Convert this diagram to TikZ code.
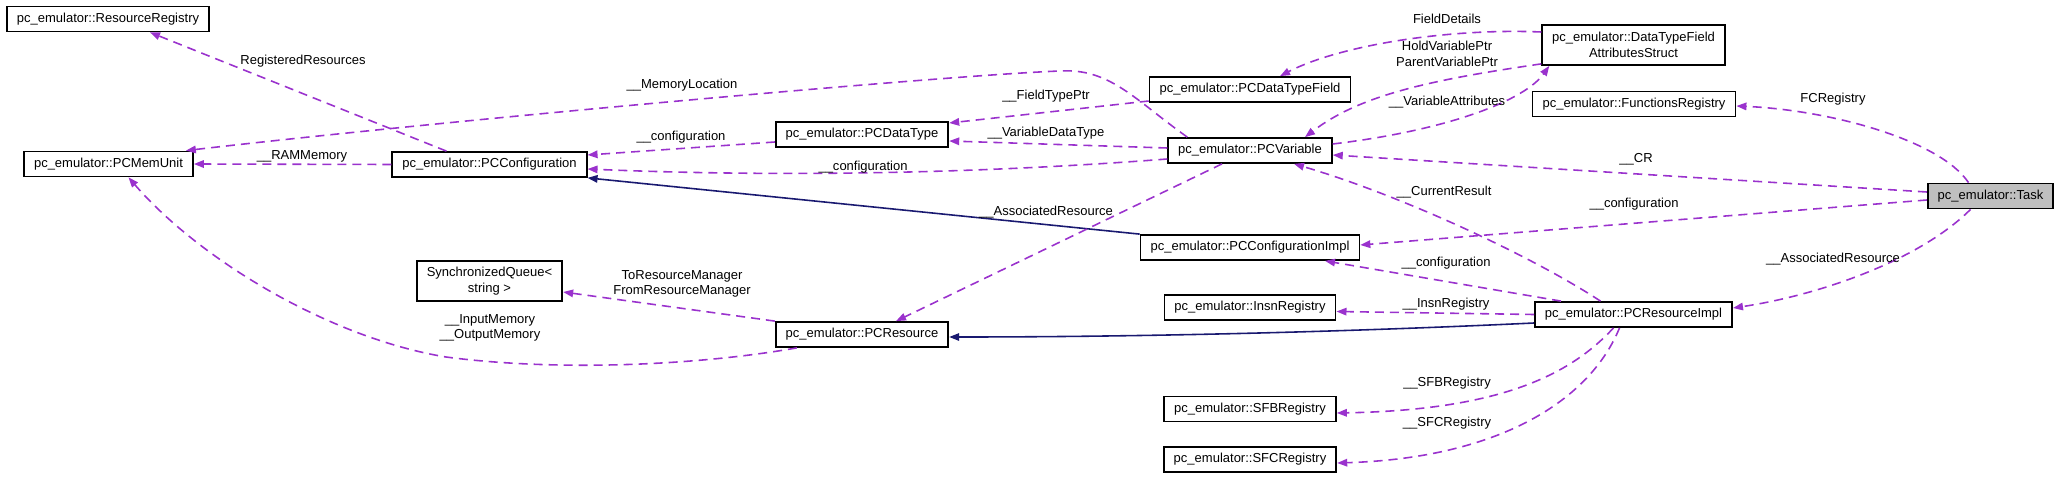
\documentclass[tikz,border=0pt]{standalone}
\usepackage{fontspec}
\setmainfont{Liberation Sans}
\usepackage{tikz}
\usetikzlibrary{arrows.meta, calc}
\definecolor{usecol}{HTML}{9A32CD}
\definecolor{inhcol}{HTML}{191970}
\definecolor{taskgray}{HTML}{BFBFBF}
\tikzset{
  classbox/.style={rectangle, draw=black, line width=0.5pt, fill=white, minimum height=0.25cm, inner xsep=0.1cm, inner ysep=0.02cm, align=center, font=\fontsize{3.7}{4.4}\selectfont},
  twoline/.style={classbox, minimum height=0.4cm},
  edgelabel/.style={inner sep=0pt, align=center, font=\fontsize{3.7}{4.4}\selectfont},
  uses/.style={usecol, line width=0.45pt, dash pattern=on 0.09cm off 0.06cm, -{Triangle[length=0.1cm, width=0.075cm]}},
  inherits/.style={inhcol, line width=0.45pt, -{Triangle[length=0.1cm, width=0.075cm]}}
}

\begin{document}
\begin{tikzpicture}[x=0.01cm, y=-0.01cm]
        \useasboundingbox (0,0) rectangle (2061,479);

        % Columna izquierda
        \node (resreg) [classbox] at (108,19) {pc\_emulator::ResourceRegistry};
        \node (memunit) [classbox] at (108.5,164) {pc\_emulator::PCMemUnit};
        \node (pcconf) [classbox] at (489.5,164.5) {pc\_emulator::PCConfiguration};
        \node (syncq) [twoline] at (489.5,281) {SynchronizedQueue<\\string >};
        \node (datatype) [classbox] at (862,134.5) {pc\_emulator::PCDataType};
        \node (pcres) [classbox] at (862,334.5) {pc\_emulator::PCResource};

        % Columna central
        \node (dtfield) [classbox] at (1250,89.5) {pc\_emulator::PCDataTypeField};
        \node (pcvar) [classbox] at (1250,150.5) {pc\_emulator::PCVariable};
        \node (confimpl) [classbox] at (1250,247.5) {pc\_emulator::PCConfigurationImpl};
        \node (insnreg) [classbox] at (1250,307.5) {pc\_emulator::InsnRegistry};
        \node (sfbreg) [classbox] at (1250,409) {pc\_emulator::SFBRegistry};
        \node (sfcreg) [classbox] at (1250,459.5) {pc\_emulator::SFCRegistry};

        % Columna derecha
        \node (dtattr) [twoline] at (1633.5,45) {pc\_emulator::DataTypeField\\AttributesStruct};
        \node (funcreg) [classbox] at (1634,104) {pc\_emulator::FunctionsRegistry};
        \node (resimpl) [classbox] at (1633.5,314.5) {pc\_emulator::PCResourceImpl};
        \node (task) [classbox, fill=taskgray] at (1990.5,196) {pc\_emulator::Task};

        % Herencia
        \draw [inherits] (confimpl.north west) -- (pcconf.south east);
        \draw [inherits] ($(resimpl.west)+(0,8.5)$) .. controls (1300,334) and (1100,337) .. ($(pcres.east)+(0,2.5)$);

        % Relaciones de uso
        \draw [uses] ($(pcconf.north west)+(55,0)$) -- ($(resreg.south east)+(-60,0)$);
        \draw [uses] (pcconf.west) -- (memunit.east);
        \draw [uses] ($(pcvar.north west)+(20,0)$) .. controls (1135,100) and (1110,68) .. (1060,71) .. controls (950,75) and (450,120) .. ($(memunit.north east)+(-8,0)$);
        \draw [uses] ($(datatype.west)+(0,7.5)$) -- ($(pcconf.east)+(0,-9.5)$);
        \draw [uses] ($(pcvar.west)+(0,8.5)$) .. controls (1000,172) and (800,178) .. ($(pcconf.east)+(0,4.5)$);
        \draw [uses] ($(dtfield.west)+(0,11.5)$) -- ($(datatype.east)+(0,-11.5)$);
        \draw [uses] ($(pcvar.west)+(0,-2.5)$) -- ($(datatype.east)+(0,6.5)$);
        \draw [uses] ($(pcvar.south)+(-28,0)$) -- ($(pcres.north)+(34,0)$);
        \draw [uses] ($(pcres.south west)+(22,0)$) .. controls (700,365) and (560,372) .. (446,357) .. controls (330,338) and (200,260) .. ($(memunit.south)+(20,0)$);
        \draw [uses] (pcres.north west) -- ($(syncq.east)+(0,11)$);
        \draw [uses] ($(dtattr.west)+(0,-13)$) .. controls (1450,28) and (1340,45) .. ($(dtfield.north)+(30,0)$);
        \draw [uses] ($(dtattr.south west)+(0,-2)$) .. controls (1430,80) and (1360,95) .. ($(pcvar.north)+(55,0)$);
        \draw [uses] ($(pcvar.east)+(0,-6.5)$) .. controls (1450,130) and (1525,100) .. ($(dtattr.south west)+(8,0)$);
        \draw [uses] ($(task.north)+(-22,0)$) .. controls (1940,140) and (1830,110) .. ($(funcreg.east)+(0,2)$);
        \draw [uses] ($(task.west)+(0,-4)$) -- ($(pcvar.east)+(0,4.5)$);
        \draw [uses] ($(task.west)+(0,4)$) -- ($(confimpl.east)+(0,-2.5)$);
        \draw [uses] ($(task.south)+(-20,0)$) .. controls (1920,260) and (1820,295) .. ($(resimpl.east)+(0,-6.5)$);
        \draw [uses] ($(resimpl.north)+(-33,0)$) .. controls (1530,255) and (1400,195) .. ($(pcvar.south)+(44,0)$);
        \draw [uses] ($(resimpl.north west)+(27,0)$) -- ($(confimpl.south)+(75,0)$);
        \draw [uses] (resimpl.west) -- ($(insnreg.east)+(0,4)$);
        \draw [uses] ($(resimpl.south)+(-20,0)$) .. controls (1570,375) and (1500,410) .. ($(sfbreg.east)+(0,4)$);
        \draw [uses] ($(resimpl.south)+(-14,0)$) .. controls (1590,400) and (1500,458) .. ($(sfcreg.east)+(0,3.5)$);

        % Etiquetas
        \node (lregres) [edgelabel] at (303,61) {RegisteredResources};
        \node (lram) [edgelabel] at (302,156) {\_\_RAMMemory};
        \node (lmemloc) [edgelabel] at (682,85) {\_\_MemoryLocation};
        \node (lconfa) [edgelabel] at (681,137) {\_\_configuration};
        \node (lconfb) [edgelabel] at (863,167) {\_\_configuration};
        \node (lfieldtype) [edgelabel] at (1046,96) {\_\_FieldTypePtr};
        \node (lvartype) [edgelabel] at (1046,133) {\_\_VariableDataType};
        \node (lassoca) [edgelabel] at (1046,212) {\_\_AssociatedResource};
        \node (lresmgr) [edgelabel] at (682,284) {ToResourceManager\\FromResourceManager};
        \node (liomem) [edgelabel] at (490,328) {\_\_InputMemory\\\_\_OutputMemory};
        \node (lfield) [edgelabel] at (1447,19) {FieldDetails};
        \node (lholdvar) [edgelabel] at (1447,54) {HoldVariablePtr\\ParentVariablePtr};
        \node (lvarattr) [edgelabel] at (1447,102) {\_\_VariableAttributes};
        \node (lfcreg) [edgelabel] at (1833,99) {FCRegistry};
        \node (lcr) [edgelabel] at (1636,159) {\_\_CR};
        \node (lconfc) [edgelabel] at (1634,204) {\_\_configuration};
        \node (lcurres) [edgelabel] at (1444,192) {\_\_CurrentResult};
        \node (lassocb) [edgelabel] at (1833,259) {\_\_AssociatedResource};
        \node (lconfd) [edgelabel] at (1446,263) {\_\_configuration};
        \node (linsn) [edgelabel] at (1446,304) {\_\_InsnRegistry};
        \node (lsfb) [edgelabel] at (1447,383) {\_\_SFBRegistry};
        \node (lsfc) [edgelabel] at (1447,423) {\_\_SFCRegistry};

    \end{tikzpicture}
\end{document}
